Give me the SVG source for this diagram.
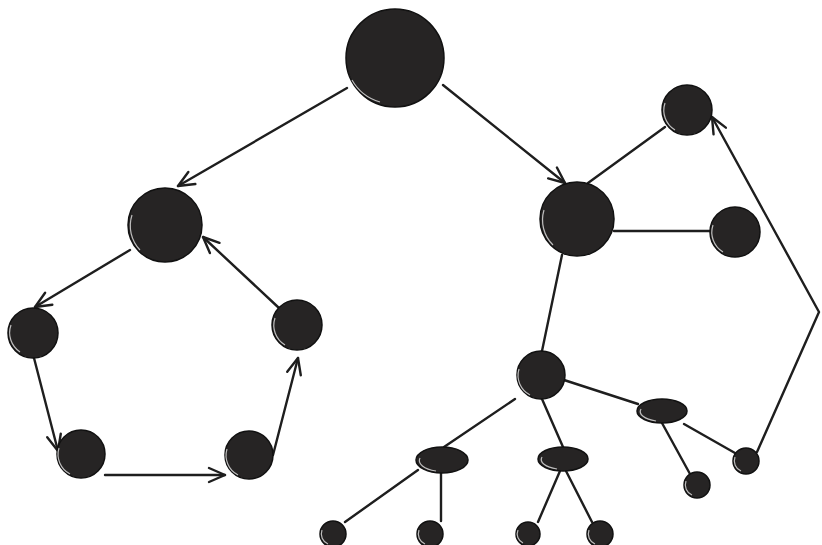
<svg xmlns="http://www.w3.org/2000/svg" width="822" height="545" viewBox="0 0 822 545">
<style>
.n{fill:#262424;stroke:#111;stroke-width:1.5}
.hl{fill:none;stroke:#fff;stroke-width:1.2;opacity:0.7}
.c{fill:none;stroke:#1e1e1e;stroke-width:2.4;stroke-linecap:round;stroke-linejoin:round}
.a{marker-end:url(#ah)}
</style>
<defs>
<marker id="ah" markerUnits="userSpaceOnUse" markerWidth="30" markerHeight="30" viewBox="-20 -15 30 30" refX="0" refY="0" orient="auto">
<path d="M-16,-7 L0,0 L-16,7" fill="none" stroke="#1e1e1e" stroke-width="2.4" stroke-linecap="round" stroke-linejoin="round"/>
</marker>
</defs>
<rect width="822" height="545" fill="#fff"/>
<g id="connectors">
<line class="c a" x1="347" y1="88" x2="178" y2="186"/>
<line class="c a" x1="443" y1="85" x2="565" y2="183"/>
<line class="c a" x1="130" y1="250" x2="35" y2="307"/>
<line class="c a" x1="34" y1="358" x2="58" y2="451"/>
<line class="c a" x1="105" y1="475" x2="225" y2="475"/>
<line class="c a" x1="273" y1="455" x2="298" y2="358"/>
<line class="c a" x1="279" y1="308" x2="203" y2="237"/>
<polyline class="c a" points="757,452 819,312 712,117"/>
<line class="c" x1="588" y1="183" x2="665" y2="127"/>
<line class="c" x1="614" y1="231" x2="710" y2="231"/>
<line class="c" x1="562" y1="255" x2="542" y2="351"/>
<line class="c" x1="515" y1="399" x2="444" y2="447"/>
<line class="c" x1="542" y1="399" x2="563" y2="447"/>
<line class="c" x1="564" y1="380" x2="638" y2="404"/>
<line class="c" x1="418" y1="470" x2="345" y2="522"/>
<line class="c" x1="441" y1="472" x2="441" y2="521"/>
<line class="c" x1="560" y1="471" x2="538" y2="522"/>
<line class="c" x1="566" y1="471" x2="592" y2="522"/>
<line class="c" x1="662" y1="423" x2="690" y2="474"/>
<line class="c" x1="684" y1="424" x2="735" y2="453"/>
</g>
<g id="n-top"><circle class="n" cx="395" cy="58" r="49"/><path class="hl" d="M352,80 A47,47 0 0 0 380,102"/></g>
<g id="n-left"><circle class="n" cx="165" cy="225" r="37"/><path class="hl" d="M132,215 A35,35 0 0 0 140,250"/></g>
<g id="n-p1"><circle class="n" cx="33" cy="333" r="25"/><path class="hl" d="M11,325 A23,23 0 0 0 20,352"/></g>
<g id="n-p2"><circle class="n" cx="81" cy="454" r="24"/><path class="hl" d="M59,448 A22,22 0 0 0 70,474"/></g>
<g id="n-p3"><circle class="n" cx="249" cy="455" r="24"/><path class="hl" d="M227,449 A22,22 0 0 0 238,475"/></g>
<g id="n-p4"><circle class="n" cx="297" cy="325" r="25"/><path class="hl" d="M275,318 A23,23 0 0 0 285,345"/></g>
<g id="n-right"><circle class="n" cx="577" cy="219" r="37"/><path class="hl" d="M544,210 A35,35 0 0 0 553,245"/></g>
<g id="n-r1"><circle class="n" cx="687" cy="110" r="25"/><path class="hl" d="M665,103 A23,23 0 0 0 675,130"/></g>
<g id="n-r2"><circle class="n" cx="735" cy="232" r="25"/><path class="hl" d="M713,225 A23,23 0 0 0 723,252"/></g>
<g id="n-mid"><circle class="n" cx="541" cy="375" r="24"/><path class="hl" d="M519,369 A22,22 0 0 0 530,395"/></g>
<g id="n-e1"><ellipse class="n" cx="442" cy="460" rx="26" ry="13"/><path class="hl" d="M420,458 A24,11 0 0 0 436,471"/></g>
<g id="n-e2"><ellipse class="n" cx="563" cy="459" rx="25" ry="12"/><path class="hl" d="M542,457 A23,10 0 0 0 557,469"/></g>
<g id="n-e3"><ellipse class="n" cx="662" cy="411" rx="25" ry="12"/><path class="hl" d="M641,409 A23,10 0 0 0 656,421"/></g>
<g id="n-s1"><circle class="n" cx="333" cy="534" r="13"/><path class="hl" d="M322,530 A11,11 0 0 0 328,544"/></g>
<g id="n-s2"><circle class="n" cx="430" cy="534" r="13"/><path class="hl" d="M419,530 A11,11 0 0 0 425,544"/></g>
<g id="n-s3"><circle class="n" cx="528" cy="534" r="12"/><path class="hl" d="M518,530 A10,10 0 0 0 523,543"/></g>
<g id="n-s4"><circle class="n" cx="600" cy="534" r="13"/><path class="hl" d="M589,530 A11,11 0 0 0 595,544"/></g>
<g id="n-s5"><circle class="n" cx="697" cy="485" r="13"/><path class="hl" d="M686,481 A11,11 0 0 0 692,495"/></g>
<g id="n-s6"><circle class="n" cx="746" cy="461" r="13"/><path class="hl" d="M735,457 A11,11 0 0 0 741,471"/></g>
</svg>
